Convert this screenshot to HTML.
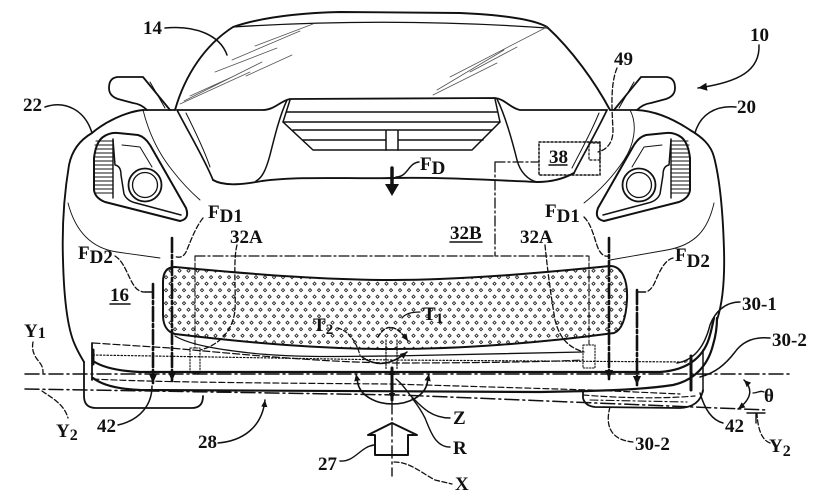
<!DOCTYPE html>
<html><head><meta charset="utf-8"><style>
html,body{margin:0;padding:0;background:#fff}
svg{display:block}
text{font-family:"Liberation Serif",serif;font-weight:bold;font-size:19px;fill:#111}
</style></head><body>
<svg width="834" height="500" viewBox="0 0 834 500" xmlns="http://www.w3.org/2000/svg">
<defs>
<marker id="ah" viewBox="0 0 10 10" refX="10" refY="5" markerWidth="9" markerHeight="9" orient="auto-start-reverse" markerUnits="userSpaceOnUse"><path d="M0,0.5 L10,5 L0,9.5 Z" fill="#111"/></marker>
<marker id="ahs" viewBox="0 0 10 10" refX="10" refY="5" markerWidth="7" markerHeight="7" orient="auto-start-reverse" markerUnits="userSpaceOnUse"><path d="M0,0.5 L10,5 L0,9.5 Z" fill="#111"/></marker>
<pattern id="mesh" width="9" height="13" patternUnits="userSpaceOnUse" x="2" y="1">
<path d="M2,1.6 L3.6,3.2 L2,4.8 L0.4,3.2 Z M6.5,8.1 L8.1,9.7 L6.5,11.3 L4.9,9.7 Z" fill="none" stroke="#222" stroke-width="0.9"/>
</pattern>
<g id="hl">
<path d="M103,137 Q110,132 118,133 L138,135 Q145,137 150,145 L186,208 Q190,219 180,221 L105,202 Q95,198 94,190 L94,158 Q96,142 103,137 Z" stroke-width="2"/>
<path d="M113,139 L113,198" stroke-width="1.4"/>
<path d="M96,141 H113 M95,145 H113 M95,149 H113 M95,153 H113 M95,157 H113 M95,161 H113 M95,165 H113 M95,169 H113 M95,173 H113 M95,177 H113 M95,181 H113 M95,185 H113 M95,189 H113 M96,193 H113" stroke-width="1.1"/>
<path d="M113,140 L115,165 Q121,166 121,175 L124,194 Q127,201 136,203 L181,215" stroke-width="1.5"/>
<circle cx="145" cy="185" r="16.5" stroke-width="1.8"/>
<circle cx="145" cy="185" r="12.5" stroke-width="1.3"/>
<path d="M122,145 L140,147 L152,167" stroke-width="1"/>
</g>
<g id="mir">
<path d="M147,110 Q141,104 133,103 L118,99 Q109,96 109,88 Q109,77 119,77 L143,77 L170,110" stroke-width="1.8"/>
<path d="M150,82 L165,108" stroke-width="1"/>
</g>
</defs>

<g fill="none" stroke="#111" stroke-linecap="round" stroke-linejoin="round">
<!-- roof / windshield -->
<path d="M175,110 C185,75 205,45 233,27 C262,17 300,13 340,12 L460,13 C505,15 535,20 547,27 C572,50 595,82 610,110" stroke-width="1.9"/>
<path d="M233,27 Q390,17 547,28" stroke-width="1.3"/>
<g stroke-width="0.8" stroke="#555">
<path d="M180,104 L250,72 M184,101 L262,62 M190,96 L232,77 M215,72 L277,48 M232,60 L300,31 M255,46 L313,24 M246,76 L292,55"/>
<path d="M437,90 L504,50 M450,77 L547,27 M470,72 L517,47 M433,95 L497,63"/>
</g>
<!-- cowl & hood -->
<path d="M143,110 L175,110 M177,110 L262,110 C275,110 280,101 290,99 L495,98 C505,99 510,108 520,110 L607,110 M610,110 L637,110" stroke-width="1.8"/>
<g stroke-width="1.5">
<path d="M290,100 L283,122 L313,150 L472,150 L500,122 L495,99"/>
<path d="M283,122 L500,122 M287,112 L497,112 M293,130 L492,130 M303,140 L386,140 M398,140 L483,140 M386,131 L386,150 M398,131 L398,150"/>
</g>
<path d="M287,100 C280,115 275,135 270,155 C266,170 262,178 256,181" stroke-width="1.5"/>
<path d="M497,99 C505,115 512,140 517,160 C520,172 528,180 537,182" stroke-width="1.5"/>
<path d="M177,110 C190,135 205,160 213,180" stroke-width="1.7"/>
<path d="M186,113 C197,135 205,152 210,167" stroke-width="1"/>
<path d="M607,110 C595,135 583,155 574,173" stroke-width="1.7"/>
<path d="M599,113 C590,135 580,152 572,168" stroke-width="1"/>
<path d="M213,180 C225,187 245,184 262,181 C300,176 350,179 392,178 C440,177 490,180 537,182 C552,182 565,178 574,173" stroke-width="1.9"/>
<!-- fenders -->
<path d="M143,110 C125,112 105,122 92,133 C80,140 72,150 69,165 C64,195 62,230 63,260 C64,300 68,330 75,345 C78,352 81,357 84,362" stroke-width="1.9"/>
<path d="M637,110 C655,111 672,118 690,130 C702,137 711,145 714,157 C720,180 723,215 724,250 C725,285 722,305 717,320" stroke-width="1.9"/>
<path d="M143,110 C148,130 156,150 172,170 C182,183 192,193 200,200" stroke-width="0.9"/>
<path d="M630,110 C638,125 634,145 624,160 C612,178 598,192 584,203" stroke-width="0.9"/>
<path d="M68,203 C75,230 90,248 117,252 L160,258" stroke-width="0.9"/>
<path d="M714,203 C708,230 695,245 667,250 L610,260" stroke-width="0.9"/>
<use href="#mir"/>
<use href="#mir" transform="translate(784,0) scale(-1,1)"/>
<use href="#hl"/>
<use href="#hl" transform="translate(784,0) scale(-1,1)"/>

<!-- 32B / 32A dash-dot region -->
<g stroke-width="1.3" stroke-dasharray="10,3,2,3">
<path d="M195,256 L589,256 M495,162 L495,256 M495,162 L539,162"/>
</g>
<path d="M195,256 L195,348 M589,256 L589,345" stroke-width="1.1" stroke-dasharray="5,2"/>

<!-- grille -->
<path d="M175,267 C260,275 330,280 392,280 C460,280 540,273 610,266 C622,266 628,280 627,300 C626,318 622,330 614,333 C540,343 460,349 392,349 C320,349 250,343 175,334 C167,332 163,325 163,315 L163,282 C163,272 167,267 175,267 Z" fill="url(#mesh)" stroke-width="2"/>

<!-- 38 box -->
<rect x="539" y="142" width="61" height="33" stroke-width="1.5" stroke-dasharray="2,2"/>
<rect x="589" y="143" width="11" height="17" stroke-width="1.2" stroke-dasharray="2,2"/>

<!-- splitter lines -->
<path d="M175,336 C190,345 220,350 260,354 C310,358 350,356 392,356 L583,352" stroke-width="1.3"/>
<path d="M93,343 L170,348 C250,355 320,362 392,363 C470,363 540,362 583,360" stroke-width="1.2" stroke-dasharray="7,3"/>
<path d="M93,355 L392,360 L687,362 L687,358" stroke-width="1.2" stroke-dasharray="1.5,2"/>
<path d="M93,361 C102,367 118,371 140,372 L660,372 C690,370 705,355 710,335 C712,328 713,322 714,318" stroke-width="2.2"/>
<path d="M93,378 C102,385 118,389 140,390 L540,392 C600,391 640,390 673,385 C695,380 708,365 713,345 C716,335 717,325 717,318" stroke-width="2.2"/>
<path d="M93,379 C150,382 250,383 392,384 L590,390 L680,394" stroke-width="1.2" stroke-dasharray="6,3"/>
<path d="M583,395 C620,398 660,399 695,396" stroke-width="1.2" stroke-dasharray="6,3"/>
<path d="M590,400 L687,402" stroke-width="1.1" stroke-dasharray="8,3,2,3"/>
<path d="M92,343 L92,380" stroke-width="1.8"/>
<path d="M93,350 L93,364" stroke-width="3"/>
<path d="M691,356 L691,390" stroke-width="3" stroke-dasharray="1.5,1"/>
<path d="M703,350 L703,392" stroke-width="1.5"/>
<!-- brackets -->
<path d="M84,362 L84,396 Q84,408 96,408 L192,408 Q203,408 203,396" stroke-width="1.8"/>
<path d="M583,392 L583,398 Q585,406 595,407 L680,408 Q700,407 703,390" stroke-width="1.8"/>
<path d="M190,348 L200,348 L200,373 L190,373 Z" stroke-width="1.1" stroke-dasharray="1.5,1.5"/>
<path d="M583,345 L595,345 L595,368 L583,368 Z" stroke-width="1.1" stroke-dasharray="1.5,1.5"/>
<!-- axes -->
<path d="M25,374 L790,374" stroke-width="1.5" stroke-dasharray="14,4,2,4"/>
<path d="M25,389 L400,395 L767,410" stroke-width="1.5" stroke-dasharray="14,4,2,4"/>
<path d="M747,413 L765,413 M756,413 L756,423" stroke-width="1.4"/>

<!-- force arrows -->
<g stroke-width="2.6" stroke-dasharray="14,3,3,3">
<path d="M172,238 L172,381" marker-end="url(#ah)"/>
<path d="M153,284 L153,383" marker-end="url(#ah)"/>
<path d="M609,238 L609,379" marker-end="url(#ah)"/>
<path d="M637,290 L637,385" marker-end="url(#ah)"/>
</g>
<path d="M145,292 L153,292 M637,292 L645,292" stroke-width="1.4"/>
<g stroke-width="1.3" stroke-dasharray="5,2.5">
<path d="M203,218 C195,228 190,243 186,252 C183,258 178,258 174,256"/>
<path d="M115,256 C125,262 128,278 135,287 C138,291 142,292 145,292"/>
<path d="M584,217 C592,225 594,238 598,248 C601,255 605,257 609,256"/>
<path d="M673,258 C665,260 660,270 655,282 C652,289 648,292 645,292"/>
<path d="M237,245 C233,260 236,290 235,310 C233,330 220,345 200,350"/>
<path d="M545,245 C547,265 550,290 555,320 C560,340 570,348 584,352"/>
<path d="M617,68 C610,85 612,110 613,130 C613,145 605,150 598,152"/>
<path d="M33,342 C31,352 36,358 40,363 C43,367 43,370 43,373"/>
<path d="M42,391 C52,398 64,404 68,418"/>
<path d="M633,442 C610,440 605,425 610,407"/>
<path d="M770,443 C762,440 758,430 757,414"/>
<path d="M394,462 C410,462 420,472 435,480 L452,484"/>
</g>
<!-- F_D center -->
<path d="M392,168 L392,186" stroke-width="3.5" stroke-dasharray="2.5,1"/>
<path d="M385,184 L399,184 L392,196 Z" fill="#111" stroke="none"/>
<path d="M396,177 C408,177 408,163 419,162" stroke-width="1.5"/>

<!-- center rotation marks -->
<path d="M386,340 L386,370 M397,340 L397,370" stroke-width="1.2" stroke-dasharray="1.5,1.5"/>
<path d="M392,368 L392,400" stroke-width="3" marker-start="url(#ahs)" marker-end="url(#ahs)"/>
<path d="M358,384 A35,24 0 0 0 427,384" stroke-width="1.6"/>
<path d="M358,384 L356,374" stroke-width="1.6" marker-end="url(#ahs)"/>
<path d="M427,384 L429,374" stroke-width="1.6" marker-end="url(#ahs)"/>
<path d="M362,357 Q383,372 407,352" stroke-width="1.5" marker-end="url(#ahs)"/>
<path d="M338,328 C350,332 356,342 360,355" stroke-width="1.2" stroke-dasharray="4,2"/>
<path d="M378,337 Q390,316 408,341" stroke-width="1.4" stroke-dasharray="4,2" marker-end="url(#ahs)"/>
<path d="M420,312 C412,312 405,314 402,318" stroke-width="1.2"/>
<path d="M450,418 C430,418 420,405 410,395 C405,388 400,382 396,379" stroke-width="1.4"/>
<path d="M450,447 C435,447 430,430 425,418 C420,408 415,402 412,398" stroke-width="1.4"/>
<!-- hollow arrow 27 -->
<path d="M392,423 L417,435 L408,435 L408,455 L375,455 L375,435 L368,435 Z" fill="#fff" stroke-width="2"/>
<path d="M392,402 L392,476" stroke-width="1.4" stroke-dasharray="12,4,2,4"/>
<path d="M340,461 C355,462 360,447 374,445" stroke-width="1.4"/>
<!-- other leaders -->
<path d="M218,443 C242,441 262,428 265,400" stroke-width="1.5" marker-end="url(#ahs)"/>
<path d="M118,425 C140,420 152,405 152,386" stroke-width="1.5"/>
<path d="M723,423 C712,420 705,410 700,393" stroke-width="1.5"/>
<path d="M740,302 C725,302 715,312 710,325 C705,345 695,360 677,363" stroke-width="1.5"/>
<path d="M770,338 C750,336 740,345 735,352 C725,365 715,373 700,377" stroke-width="1.5"/>
<path d="M165,28 C195,25 220,35 227,55" stroke-width="1.5"/>
<path d="M45,107 C65,100 85,110 92,133" stroke-width="1.5"/>
<path d="M736,107 C715,105 700,115 695,133" stroke-width="1.5"/>
<path d="M759,45 C760,70 740,82 698,88" stroke-width="1.5" marker-end="url(#ah)"/>
<!-- theta -->
<path d="M744,380 Q758,394 738,409" stroke-width="1.5" marker-start="url(#ahs)" marker-end="url(#ahs)"/>
<path d="M753,393 C758,393 760,390 764,392" stroke-width="1.3"/>
<!-- underlines -->
<path d="M110,304 L130,304 M450,242 L482,242 M549,165 L567,165" stroke-width="1.5"/>
</g>

<!-- labels -->
<text x="143" y="34">14</text>
<text x="750" y="41">10</text>
<text x="23" y="111">22</text>
<text x="737" y="113">20</text>
<text x="614" y="65">49</text>
<text x="549" y="163">38</text>
<text x="420" y="170">F<tspan dy="4">D</tspan></text>
<text x="450" y="239">32B</text>
<text x="208" y="218">F<tspan dy="4">D1</tspan></text>
<text x="545" y="217">F<tspan dy="5">D1</tspan></text>
<text x="230" y="243">32A</text>
<text x="520" y="243">32A</text>
<text x="78" y="259">F<tspan dy="4">D2</tspan></text>
<text x="675" y="261">F<tspan dy="6">D2</tspan></text>
<text x="110" y="301">16</text>
<text x="742" y="310">30-1</text>
<text x="772" y="346">30-2</text>
<text x="635" y="450">30-2</text>
<text x="423" y="320">T<tspan dy="3" font-size="15">1</tspan></text>
<text x="313" y="331">T<tspan dy="3" font-size="15">2</tspan></text>
<text x="24" y="337" font-size="21">Y<tspan dy="1" font-size="16">1</tspan></text>
<text x="56" y="437" font-size="21">Y<tspan dy="3" font-size="16">2</tspan></text>
<text x="769" y="452" font-size="21">Y<tspan dy="4" font-size="16">2</tspan></text>
<text x="97" y="432">42</text>
<text x="725" y="432">42</text>
<text x="198" y="448">28</text>
<text x="318" y="470">27</text>
<text x="453" y="424">Z</text>
<text x="453" y="454">R</text>
<text x="455" y="490">X</text>
<text x="764" y="402" font-weight="normal" font-size="17">θ</text>
</svg>
</body></html>
